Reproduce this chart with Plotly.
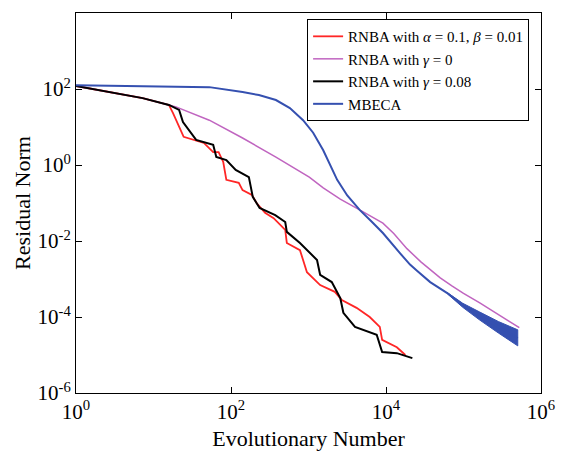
import plotly.graph_objects as go

# ---- data ----
red_x = [1, 2.69, 7.24, 15.8, 17.8, 24.5, 32.4, 44.7, 58.9, 69.2, 79.4, 87.1, 126, 141, 186, 214, 275, 355, 501, 525, 776, 955, 1413, 2188, 2692, 4169, 6166, 8318, 8913, 13804, 17783]
red_y = [120, 83.2, 57.5, 38, 23.4, 5.5, 4.57, 3.8, 2.19, 2.19, 1.2, 0.407, 0.339, 0.219, 0.162, 0.1, 0.055, 0.0398, 0.0195, 0.0089, 0.00575, 0.00151, 6.9e-4, 4.6e-4, 2.8e-4, 1.74e-4, 1e-4, 5.5e-5, 2.5e-5, 1.6e-5, 1e-5]

mag_x = [1, 2.69, 7.24, 15.8, 19.5, 52.5, 141, 380, 575, 1023, 1549, 2570, 4571, 9120, 12589, 18621, 28184, 37154, 50119, 70795, 100000, 162181, 281838, 524807]
mag_y = [120, 83.2, 57.5, 38, 33.9, 15.1, 5.13, 1.62, 0.955, 0.479, 0.251, 0.126, 0.066, 0.0295, 0.0158, 0.0063, 0.00282, 0.00174, 0.00107, 6.6e-4, 4.17e-4, 2.34e-4, 1.15e-4, 5.25e-5]

blk_x = [1, 2.69, 7.24, 15.8, 21.4, 24, 35.5, 58.9, 64.6, 87.1, 115, 170, 191, 234, 372, 501, 525, 776, 1288, 1413, 1995, 2570, 2818, 3981, 7586, 8913, 13804, 21878]
blk_y = [120, 83.2, 57.5, 38, 28.2, 13.5, 4.57, 3.39, 1.62, 1.35, 0.741, 0.479, 0.145, 0.074, 0.048, 0.0316, 0.0174, 0.0089, 0.00316, 0.00129, 8.3e-4, 3.16e-4, 1.29e-4, 5.5e-5, 3.4e-5, 1.2e-5, 1.12e-5, 8.3e-6]

blue_x = [1, 10, 52.5, 141, 229, 380, 575, 851, 1148, 1549, 1905, 2344, 3162, 4571, 6607, 9120, 15136, 20417, 25119, 37154, 61660, 97724, 162181, 281838, 501187]
blue_y = [126, 120, 112, 83.2, 69.2, 51.3, 31.6, 15.1, 7.08, 2.45, 1.0, 0.407, 0.158, 0.066, 0.0316, 0.0162, 0.00479, 0.0024, 0.00166, 8.3e-4, 4.27e-4, 2.09e-4, 1.07e-4, 5.6e-5, 2.8e-5]

# noisy envelope of the MBECA curve at large evolutionary numbers
band_x = [61660, 97724, 162181, 281838, 501187]
band_hi = [4.4e-4, 2.3e-4, 1.35e-4, 7.6e-5, 4.6e-5]
band_lo = [4.1e-4, 1.8e-4, 8.3e-5, 3.8e-5, 1.74e-5]

tick_vals_x = [1, 1e2, 1e4, 1e6]
tick_text_x = ["10<sup>0</sup>", "10<sup>2</sup>", "10<sup>4</sup>", "10<sup>6</sup>"]
tick_vals_y = [1e-6, 1e-4, 1e-2, 1, 1e2, 1e4]
tick_text_y = ["10<sup>-6</sup>", "10<sup>-4</sup>", "10<sup>-2</sup>", "10<sup>0</sup>", "10<sup>2</sup>", "10<sup>4</sup>"]

RED = "#ff2626"
MAG = "#c065c0"
BLK = "#000000"
BLU = "#3550b0"
SERIF = "Liberation Serif, Times New Roman, Times, serif"

fig = go.Figure()
fig.add_trace(go.Scatter(x=band_x + band_x[::-1], y=band_hi + band_lo[::-1],
                         fill="toself", fillcolor=BLU, mode="lines",
                         line=dict(color=BLU, width=1), showlegend=False, hoverinfo="skip"))
fig.add_trace(go.Scatter(x=red_x, y=red_y, mode="lines", line=dict(color=RED, width=1.8),
                         name="RNBA with <i>α</i> = 0.1, <i>β</i> = 0.01"))
fig.add_trace(go.Scatter(x=mag_x, y=mag_y, mode="lines", line=dict(color=MAG, width=1.5),
                         name="RNBA with <i>γ</i> = 0"))
fig.add_trace(go.Scatter(x=blk_x, y=blk_y, mode="lines", line=dict(color=BLK, width=2),
                         name="RNBA with <i>γ</i> = 0.08"))
fig.add_trace(go.Scatter(x=blue_x, y=blue_y, mode="lines", line=dict(color=BLU, width=2),
                         name="MBECA"))

fig.update_layout(
    width=563, height=451,
    margin=dict(l=76, r=22, t=13, b=58),
    paper_bgcolor="white", plot_bgcolor="white",
    font=dict(family=SERIF, color="black", size=21),
    legend=dict(x=0.497, y=0.984, xanchor="left", yanchor="top",
                bgcolor="white", bordercolor="black", borderwidth=1,
                font=dict(family=SERIF, size=15, color="black"),
                tracegroupgap=0, itemwidth=30),
    showlegend=True,
)
axis_common = dict(showline=True, linecolor="black", linewidth=1, mirror="ticks",
                   ticks="inside", ticklen=6, tickcolor="black", showgrid=False, zeroline=False,
                   automargin=False)
fig.update_xaxes(type="log", range=[0, 6], tickvals=tick_vals_x, ticktext=tick_text_x,
                 title=dict(text="Evolutionary Number", font=dict(family=SERIF, size=22), standoff=10), **axis_common)
fig.update_yaxes(type="log", range=[-6, 4], tickvals=tick_vals_y, ticktext=tick_text_y,
                 title=dict(text="Residual Norm", font=dict(family=SERIF, size=22), standoff=0), **axis_common)

fig.write_html("out.html")
